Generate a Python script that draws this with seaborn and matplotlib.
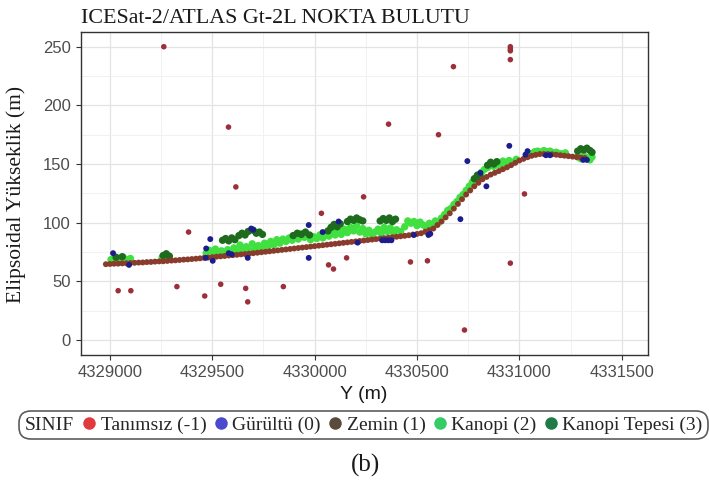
import matplotlib
matplotlib.use("Agg")
import matplotlib.pyplot as plt
import pandas as pd
import seaborn as sns
from matplotlib.lines import Line2D
from matplotlib.offsetbox import HPacker

sns.set_theme(style="white")
plt.rcParams["font.family"] = ["DejaVu Sans"]

SERIF = "Liberation Serif"
SANS = "Liberation Sans"

# ---------------------------------------------------------------------------
# Photon classes
siniflar = ["Tanımsız (-1)", "Gürültü (0)", "Zemin (1)", "Kanopi (2)", "Kanopi Tepesi (3)"]

# Zemin (ground) photons: Y coordinate (m) and ellipsoidal height (m)
zemin_y = [
    4328980, 4329000, 4329020, 4329040, 4329060, 4329080, 4329100, 4329120, 4329140, 4329160,
    4329180, 4329200, 4329220, 4329240, 4329260, 4329280, 4329300, 4329320, 4329340, 4329360,
    4329380, 4329400, 4329420, 4329440, 4329460, 4329480, 4329500, 4329520, 4329540, 4329560,
    4329580, 4329600, 4329620, 4329640, 4329660, 4329680, 4329700, 4329720, 4329740, 4329760,
    4329780, 4329800, 4329820, 4329840, 4329860, 4329880, 4329900, 4329920, 4329940, 4329960,
    4329980, 4330000, 4330020, 4330040, 4330060, 4330080, 4330100, 4330120, 4330140, 4330160,
    4330180, 4330200, 4330220, 4330240, 4330260, 4330280, 4330300, 4330320, 4330340, 4330360,
    4330380, 4330400, 4330420, 4330440, 4330460, 4330480, 4330500, 4330520, 4330540, 4330560,
    4330580, 4330600, 4330620, 4330640, 4330660, 4330680, 4330700, 4330720, 4330740, 4330760,
    4330780, 4330800, 4330820, 4330840, 4330860, 4330880, 4330900, 4330920, 4330940, 4330960,
    4330980, 4331000, 4331020, 4331040, 4331060, 4331080, 4331100, 4331120, 4331140, 4331160,
    4331180, 4331200, 4331220, 4331240, 4331260, 4331280, 4331300, 4331320,
]
zemin_h = [
    64.6, 64.8, 65.0, 65.1, 65.3, 65.4, 65.6, 65.8, 66.0, 66.1,
    66.4, 66.5, 66.8, 67.0, 67.1, 67.4, 67.7, 67.9, 68.2, 68.5,
    68.7, 69.0, 69.3, 69.6, 70.0, 70.3, 70.6, 71.0, 71.3, 71.6,
    72.0, 72.3, 72.6, 73.0, 73.3, 73.6, 74.0, 74.4, 74.8, 75.2,
    75.6, 76.0, 76.4, 76.8, 77.2, 77.6, 78.0, 78.4, 78.8, 79.2,
    79.6, 80.0, 80.4, 80.8, 81.2, 81.6, 82.0, 82.4, 82.8, 83.2,
    83.6, 84.0, 84.4, 84.8, 85.2, 85.6, 86.0, 86.4, 86.8, 87.2,
    87.6, 88.0, 88.4, 88.8, 89.3, 89.9, 90.4, 91.0, 92.3, 93.6,
    95.0, 98.0, 101.0, 104.5, 108.0, 112.0, 116.0, 120.0, 124.0, 127.5,
    131.0, 134.0, 137.0, 139.0, 141.0, 142.5, 144.0, 145.6, 147.2, 149.0,
    151.0, 153.0, 154.4, 155.8, 157.0, 157.8, 158.5, 158.5, 158.5, 158.3,
    157.9, 157.5, 157.1, 156.7, 156.3, 155.9, 155.5, 155.2,
]

# Kanopi (canopy) photons
kanopi_y = [
    4329005, 4329025, 4329045, 4329065, 4329085, 4329100, 4329255, 4329270, 4329290,
    4329470, 4329485, 4329500, 4329515, 4329530, 4329545, 4329560,
    4329575, 4329590, 4329605, 4329620, 4329635, 4329650, 4329665, 4329680, 4329695, 4329710,
    4329725, 4329740, 4329755, 4329770, 4329785, 4329800, 4329815, 4329830, 4329845,
    4329860, 4329875, 4329890, 4329905, 4329920, 4329935, 4329950, 4329965, 4329980, 4329995,
    4330010, 4330025, 4330040, 4330055, 4330070, 4330085, 4330100, 4330115, 4330130, 4330145,
    4330160, 4330175, 4330190, 4330205, 4330220, 4330235, 4330250, 4330265, 4330280, 4330295,
    4330310, 4330325, 4330340, 4330355, 4330370, 4330385, 4330400, 4330420, 4330440,
    4330455, 4330470, 4330485, 4330500, 4330515, 4330530, 4330545,
    4330560, 4330575, 4330590, 4330605, 4330620, 4330635, 4330650, 4330665, 4330680, 4330695,
    4330710, 4330725, 4330740, 4330755, 4330770, 4330785, 4330800, 4330815, 4330830, 4330845,
    4330860, 4330875, 4330890, 4330905, 4330920, 4330935, 4330950, 4330965, 4330985,
    4331060, 4331075, 4331090, 4331105, 4331120, 4331135, 4331150, 4331165, 4331180, 4331195,
    4331210, 4331225, 4331285, 4331300, 4331315, 4331330, 4331345, 4331355,
]
kanopi_h = [
    68.5, 70.0, 69.0, 70.5, 68.5, 69.5, 70.5, 72.0, 70.0,
    74.0, 76.5, 75.0, 77.5, 73.5, 76.0, 74.5,
    77.0, 75.5, 78.5, 76.0, 81.0, 77.5, 79.5, 76.5, 82.0, 78.0,
    80.5, 78.5, 82.5, 79.5, 84.0, 81.0, 85.5, 82.5, 86.0,
    84.0, 87.0, 85.0, 89.0, 86.0, 90.5, 87.5, 89.0, 85.5, 88.0,
    86.5, 89.5, 87.0, 91.0, 88.5, 92.5, 89.5, 93.0, 90.0, 94.5,
    91.5, 96.0, 93.0, 97.5, 92.0, 95.0, 90.5, 93.5, 89.5, 92.0,
    94.5, 91.0, 96.0, 92.5, 95.5, 91.5, 94.0, 92.5, 96.5,
    101.5, 99.5, 101.0, 97.5, 100.5, 98.0, 96.0,
    99.5, 97.0, 101.5, 100.0, 104.0, 107.0, 110.5, 112.0, 115.5, 118.0,
    121.5, 124.0, 127.5, 131.0, 134.5, 137.0, 140.5, 143.0, 145.5, 147.0,
    149.5, 148.0, 151.0, 149.0, 152.5, 150.5, 153.0, 151.5, 154.0,
    159.0, 160.5, 161.0, 160.0, 161.5, 160.5, 161.0, 159.5, 160.0, 159.0,
    158.5, 159.5, 156.0, 154.5, 157.0, 155.5, 153.5, 156.0,
]

# Kanopi tepesi (top of canopy) photons
tepe_y = [
    4329030, 4329060, 4329260, 4329275, 4329290,
    4329550, 4329565, 4329580, 4329595, 4329610,
    4329630, 4329645, 4329660, 4329675, 4329700, 4329715, 4329730, 4329745,
    4329895, 4329915, 4329935, 4329955, 4329975,
    4330065, 4330080, 4330095, 4330110, 4330125,
    4330160, 4330175, 4330190, 4330205, 4330220, 4330235,
    4330320, 4330335, 4330350, 4330365, 4330380, 4330395,
    4330780, 4330795, 4330810, 4330845, 4330860, 4330875, 4330890,
    4331285, 4331300, 4331315, 4331330, 4331345, 4331355,
]
tepe_h = [
    70.5, 71.0, 72.0, 73.5, 71.5,
    85.0, 86.5, 84.5, 87.0, 85.5,
    89.0, 91.0, 89.5, 92.5, 93.5, 91.0, 92.0, 90.0,
    89.0, 91.0, 90.0, 92.0, 89.5,
    93.0, 96.0, 98.5, 96.5, 99.0,
    101.0, 103.0, 102.0, 104.0, 102.5, 101.5,
    101.5, 103.5, 102.0, 104.0, 101.0, 103.0,
    137.5, 140.5, 139.0, 149.0, 151.5, 150.0, 152.0,
    161.0, 163.0, 162.0, 163.5, 161.5, 160.0,
]

# Gurultu (noise) photons
gurultu_y = [
    4329015, 4329093, 4329468, 4329470, 4329490, 4329502, 4329580, 4329595, 4329673,
    4329690, 4329700, 4329971, 4329971, 4330039, 4330117, 4330210, 4330330, 4330345,
    4330360, 4330375, 4330485, 4330556, 4330565, 4330712, 4330746, 4330810, 4330839,
    4330951, 4331030, 4331040, 4331130, 4331150, 4331312, 4331330,
]
gurultu_h = [
    74.0, 64.0, 70.0, 78.0, 86.0, 67.5, 74.0, 73.0, 70.0,
    95.0, 94.0, 70.0, 98.0, 92.0, 101.0, 83.0, 85.0, 85.0,
    85.0, 85.0, 89.5, 89.5, 90.5, 103.0, 152.5, 142.5, 131.0,
    165.5, 158.0, 161.0, 157.5, 157.5, 153.5, 153.5,
]

# Tanimsiz (unclassified) photons
tanimsiz_y = [
    4329040, 4329102, 4329263, 4329327, 4329384, 4329463, 4329541, 4329579, 4329615,
    4329663, 4329673, 4329847, 4330033, 4330068, 4330092, 4330156, 4330239, 4330361,
    4330468, 4330551, 4330605, 4330678, 4330732, 4330956, 4330956, 4330956, 4330956,
    4330956, 4331025,
]
tanimsiz_h = [
    42.0, 42.0, 250.0, 45.5, 92.0, 37.5, 47.5, 181.5, 130.5,
    44.0, 32.5, 45.5, 108.0, 64.0, 60.5, 70.0, 122.0, 184.0,
    66.5, 67.5, 175.0, 233.0, 8.5, 250.0, 248.0, 246.5, 239.0,
    65.5, 124.5,
]

x_ticks = [4329000, 4329500, 4330000, 4330500, 4331000, 4331500]
y_ticks = [0, 50, 100, 150, 200, 250]

# Marker colours as they appear on the panel and in the key
renk_nokta = ["#9c2f3a", "#1c1c8c", "#8a3c2c", "#3fe03f", "#1e6b1e"]
renk_lejant = ["#e03a3e", "#4a4acc", "#5b4a3a", "#33cc66", "#1f7a45"]
boyut = [16, 18, 18, 28, 28]

# ---------------------------------------------------------------------------
parts = [
    (kanopi_y, kanopi_h, siniflar[3]),
    (tepe_y, tepe_h, siniflar[4]),
    (zemin_y, zemin_h, siniflar[2]),
    (gurultu_y, gurultu_h, siniflar[1]),
    (tanimsiz_y, tanimsiz_h, siniflar[0]),
]
df = pd.concat(
    [pd.DataFrame({"Y": ys, "H": hs, "SINIF": name}) for ys, hs, name in parts],
    ignore_index=True,
)

fig = plt.figure(figsize=(7.09, 4.86), dpi=100)
W, H = 709, 486
ax = fig.add_axes([80.7 / W, 1 - 355 / H, (648.3 - 80.7) / W, (355 - 31.7) / H])
ax.set_facecolor("white")

sns.scatterplot(
    data=df, x="Y", y="H", hue="SINIF", hue_order=siniflar,
    palette=dict(zip(siniflar, renk_nokta)),
    size="SINIF", sizes=dict(zip(siniflar, boyut)),
    linewidth=0, legend=False, ax=ax,
)

ax.set_xlim(4328857, 4331630)
ax.set_ylim(-12.8, 262.8)
ax.set_xticks(x_ticks)
ax.set_xticklabels([str(v) for v in x_ticks])
ax.set_yticks(y_ticks)
ax.set_yticklabels([str(v) for v in y_ticks])
ax.set_xticks([v + 250 for v in x_ticks[:-1]], minor=True)
ax.set_yticks([v + 25 for v in y_ticks[:-1]], minor=True)

ax.grid(which="major", color="#e3e3e3", linewidth=0.9)
ax.grid(which="minor", color="#efefef", linewidth=0.6)
ax.set_axisbelow(True)

for sp in ax.spines.values():
    sp.set_visible(True)
    sp.set_color("#333333")
    sp.set_linewidth(1.0)

ax.tick_params(which="major", direction="out", length=3.5, width=0.8, color="#333333",
               labelcolor="#4d4d4d", labelsize=12, pad=3.5,
               bottom=True, left=True, top=False, right=False)
ax.tick_params(which="minor", length=0)
for lab in ax.get_xticklabels() + ax.get_yticklabels():
    lab.set_fontfamily(SANS)

ax.set_title("ICESat-2/ATLAS Gt-2L NOKTA BULUTU", loc="left", fontfamily=SERIF,
             fontsize=15.8, color="#1a1a1a", pad=6.0)
ax.set_xlabel("Y (m)", fontfamily=SANS, fontsize=14, color="#1a1a1a")
ax.set_ylabel("Elipsoidal Yükseklik (m)", fontfamily=SERIF, fontsize=15.5, color="#1a1a1a")
ax.xaxis.set_label_coords(0.499, -0.096)
ax.yaxis.set_label_coords(-0.096, 0.497)

# Key below the panel, with the class title on the left of the entries
handles = [
    Line2D([], [], ls="none", marker="o", markersize=9,
           markerfacecolor=c, markeredgecolor="none")
    for c in renk_lejant
]
prop = {"family": SERIF, "size": 14}
leg = fig.legend(
    handles, siniflar, loc="center", bbox_to_anchor=(363.5 / W, 1 - 424.85 / H),
    ncol=5, frameon=True, fancybox=True, prop=prop, title="SINIF",
    title_fontproperties=prop, handlelength=0.7, handletextpad=0.25,
    columnspacing=0.38, borderpad=0.25, borderaxespad=0,
)
fs = leg._fontsize
row = HPacker(pad=leg.borderpad * fs, sep=0.45 * fs, align="baseline",
              children=[leg._legend_title_box, leg._legend_handle_box])
row.set_figure(fig)
row.set_offset(leg._findoffset)
leg._legend_box = row
frame = leg.get_frame()
frame.set_boxstyle("round", pad=0, rounding_size=0.6)
frame.set_edgecolor("#333333")
frame.set_linewidth(1.2)
frame.set_facecolor("white")

fig.text(365 / W, 1 - 465 / H, "(b)", ha="center", va="center",
         fontfamily=SERIF, fontsize=18, color="#1a1a1a")

fig.savefig("out.png", dpi=100, facecolor="white")
